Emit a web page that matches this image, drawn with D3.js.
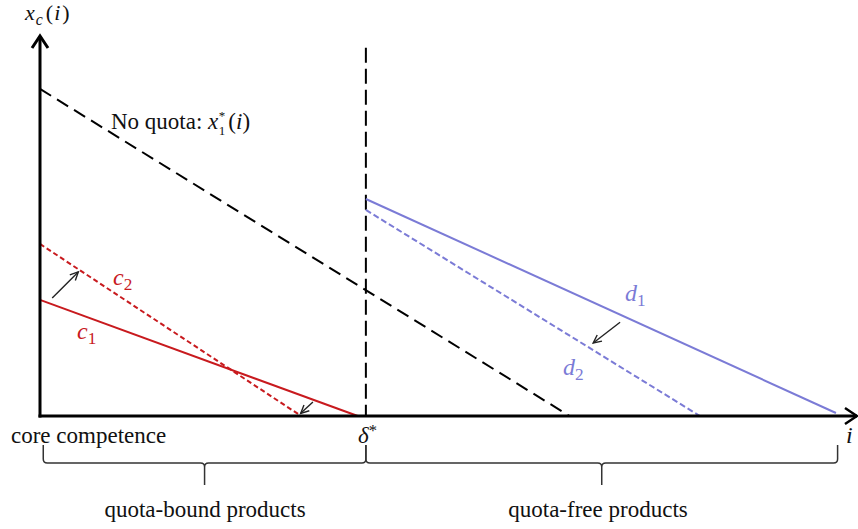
<!DOCTYPE html>
<html>
<head>
<meta charset="utf-8">
<script src="https://cdn.jsdelivr.net/npm/d3@7"></script>
<style>
  html, body { margin: 0; padding: 0; background: #fff; }
  svg { display: block; }
  text { font-family: "Liberation Serif", "DejaVu Serif", serif; fill: #111; }
</style>
</head>
<body>
<svg id="chart" width="858" height="529"></svg>
<script>
// Model coordinates: products i along the x axis, quantity x_c(i) up the y axis.
const deltaStar = 4.0;          // cut-off product δ*
const axisMaxX = 10.2;
const axisMaxY = 10.05;

// Straight schedules, each given by its two end points [i, x].
const noQuota   = [[0, 8.65], [6.5, 0]];
const c1        = [[0, 3.07], [3.9, 0]];
const c2        = [[0, 4.55], [3.17, 0.05]];
const d1        = [[deltaStar, 5.74], [9.77, 0.08]];
const d2        = [[deltaStar, 5.45], [8.1, 0]];
const deltaLine = [[deltaStar, 9.74], [deltaStar, 0]];

// Shift arrows [from, to].
const arrowC    = [[0.15, 3.12], [0.47, 3.81]];
const arrowC0   = [[3.35, 0.37], [3.2, 0.07]];
const arrowD    = [[7.12, 2.48], [6.79, 1.93]];

// Braces under the axis [start, end].
const braceBound = [0.04, deltaStar];
const braceFree  = [deltaStar, 9.79];

const svg = d3.select("#chart");
const x = d3.scaleLinear().domain([0, axisMaxX]).range([40, 871]);
const y = d3.scaleLinear().domain([0, axisMaxY]).range([416, 36]);

const red = "#c81a1e", blue = "#7b7bd6";
const line = d3.line().x(d => x(d[0])).y(d => y(d[1]));

function seg(pts, color, width, dash) {
  svg.append("path").attr("d", line(pts)).attr("fill", "none")
    .attr("stroke", color).attr("stroke-width", width)
    .attr("stroke-dasharray", dash || null);
}

// Schedules
seg(noQuota, "#000", 2, "13,7");
seg(deltaLine, "#000", 2, "15,6");
seg(c1, red, 2);
seg(c2, red, 2, "5,3");
seg(d1, blue, 2);
seg(d2, blue, 2, "6,3");

// Axes with open chevron heads
const x0 = x(0), y0 = y(0), xEnd = x(axisMaxX) - 14, yTop = y(axisMaxY);
svg.append("path").attr("d", `M${x0},${y0 + 1.5}V${yTop}`)
  .attr("stroke", "#000").attr("stroke-width", 3).attr("fill", "none");
svg.append("path").attr("d", `M${x0 - 8},${yTop + 12}L${x0},${yTop}L${x0 + 8},${yTop + 12}`)
  .attr("stroke", "#000").attr("stroke-width", 3).attr("fill", "none");
svg.append("path").attr("d", `M${x0 - 1.5},${y0}H${xEnd}`)
  .attr("stroke", "#000").attr("stroke-width", 3).attr("fill", "none");
svg.append("path").attr("d", `M${xEnd - 12},${y0 - 8}L${xEnd},${y0}L${xEnd - 12},${y0 + 8}`)
  .attr("stroke", "#000").attr("stroke-width", 2.5).attr("fill", "none");

// Thin shift arrows
function arrow(a) {
  const [p, q] = a;
  const x1 = x(p[0]), y1 = y(p[1]), x2 = x(q[0]), y2 = y(q[1]);
  const ang = Math.atan2(y2 - y1, x2 - x1), L = 9, w = 0.45;
  svg.append("path").attr("d", `M${x1},${y1}L${x2},${y2}`)
    .attr("stroke", "#222").attr("stroke-width", 1.4).attr("fill", "none");
  svg.append("path")
    .attr("d", `M${x2 - L * Math.cos(ang - w)},${y2 - L * Math.sin(ang - w)}L${x2},${y2}L${x2 - L * Math.cos(ang + w)},${y2 - L * Math.sin(ang + w)}`)
    .attr("stroke", "#222").attr("stroke-width", 1.4).attr("fill", "none");
}
[arrowC, arrowC0, arrowD].forEach(arrow);

// Curly braces
function brace(b, top, mid, tip) {
  const a = x(b[0]), c = x(b[1]), m = (a + c) / 2, r = 4;
  const d = `M${a},${top}V${mid - r}Q${a},${mid} ${a + r},${mid}H${m - r}Q${m},${mid} ${m},${mid + r}V${tip}` +
            `M${m},${mid + r}Q${m},${mid} ${m + r},${mid}H${c - r}Q${c},${mid} ${c},${mid - r}V${top}`;
  svg.append("path").attr("d", d).attr("fill", "none").attr("stroke", "#333").attr("stroke-width", 1.5);
}
brace(braceBound, 445, 463, 485);
brace(braceFree, 445, 463, 485);

// Labels
function label(px, py, parts, color, size, anchor) {
  const t = svg.append("text").attr("x", px).attr("y", py)
    .attr("font-size", size).attr("text-anchor", anchor || "start")
    .style("fill", color || "#111");
  parts.forEach(p => {
    const s = t.append("tspan").text(p.t);
    if (p.i) s.attr("font-style", "italic");
    if (p.sub) s.attr("baseline-shift", "-30%").attr("font-size", size * 0.72);
    if (p.sup) s.attr("baseline-shift", "40%").attr("font-size", size * 0.72);
    if (p.dx) s.attr("dx", p.dx);
  });
  return t;
}

label(25, 20, [{t: "x", i: 1}, {t: "c", i: 1, sub: 1, dx: 1}, {t: "(", dx: 3}, {t: "i", i: 1, dx: 1}, {t: ")", dx: 2}], "#111", 22);
// "No quota: x*₁(i)" with the star and the index stacked over each other
const nq = label(111, 129, [{t: "No quota: "}, {t: "x", i: 1}], "#111", 23);
const nqEnd = 111 + nq.node().getComputedTextLength();
label(nqEnd + 0.5, 120, [{t: "*"}], "#111", 13);
label(nqEnd + 0.5, 135, [{t: "1"}], "#111", 13);
label(nqEnd + 10, 129, [{t: "("}, {t: "i", i: 1}, {t: ")"}], "#111", 23);

label(113, 285, [{t: "c", i: 1}, {t: "2", sub: 1}], red, 24);
label(77, 339, [{t: "c", i: 1}, {t: "1", sub: 1}], red, 24);
label(625, 301, [{t: "d", i: 1}, {t: "1", sub: 1}], blue, 24);
label(563, 375, [{t: "d", i: 1}, {t: "2", sub: 1}], blue, 24);

label(11, 443, [{t: "core competence"}], "#111", 23);
label(358, 443, [{t: "δ", i: 1}, {t: "*", sup: 1}], "#111", 23);
label(846, 443, [{t: "i", i: 1}], "#111", 24);
label(205, 517, [{t: "quota-bound products"}], "#111", 23, "middle");
label(598, 517, [{t: "quota-free products"}], "#111", 23, "middle");
</script>
</body>
</html>
